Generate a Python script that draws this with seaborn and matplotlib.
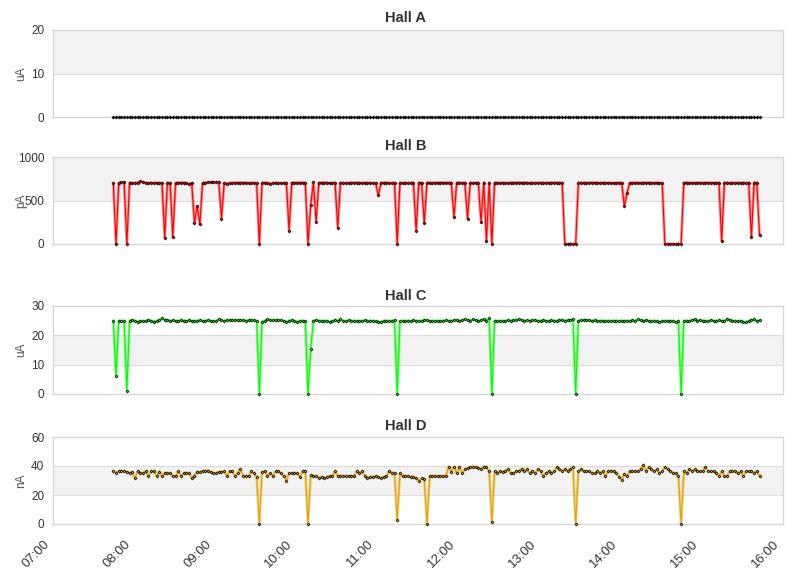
import matplotlib
matplotlib.use("Agg")
import matplotlib.pyplot as plt
import matplotlib.dates as mdates
from matplotlib.transforms import ScaledTranslation
import seaborn as sns
import pandas as pd

# ---------------- data ----------------
times = pd.date_range("2024-01-01 07:45", periods=240, freq="2min")

hall_a = [
    0, 0, 0, 0, 0, 0, 0, 0, 0, 0, 0, 0, 0, 0, 0, 0, 0, 0, 0, 0,
    0, 0, 0, 0, 0, 0, 0, 0, 0, 0, 0, 0, 0, 0, 0, 0, 0, 0, 0, 0,
    0, 0, 0, 0, 0, 0, 0, 0, 0, 0, 0, 0, 0, 0, 0, 0, 0, 0, 0, 0,
    0, 0, 0, 0, 0, 0, 0, 0, 0, 0, 0, 0, 0, 0, 0, 0, 0, 0, 0, 0,
    0, 0, 0, 0, 0, 0, 0, 0, 0, 0, 0, 0, 0, 0, 0, 0, 0, 0, 0, 0,
    0, 0, 0, 0, 0, 0, 0, 0, 0, 0, 0, 0, 0, 0, 0, 0, 0, 0, 0, 0,
    0, 0, 0, 0, 0, 0, 0, 0, 0, 0, 0, 0, 0, 0, 0, 0, 0, 0, 0, 0,
    0, 0, 0, 0, 0, 0, 0, 0, 0, 0, 0, 0, 0, 0, 0, 0, 0, 0, 0, 0,
    0, 0, 0, 0, 0, 0, 0, 0, 0, 0, 0, 0, 0, 0, 0, 0, 0, 0, 0, 0,
    0, 0, 0, 0, 0, 0, 0, 0, 0, 0, 0, 0, 0, 0, 0, 0, 0, 0, 0, 0,
    0, 0, 0, 0, 0, 0, 0, 0, 0, 0, 0, 0, 0, 0, 0, 0, 0, 0, 0, 0,
    0, 0, 0, 0, 0, 0, 0, 0, 0, 0, 0, 0, 0, 0, 0, 0, 0, 0, 0, 0,
]

hall_b = [
    700, 0, 700, 710, 710, 0, 705, 700, 700, 705,
    720, 710, 705, 700, 705, 700, 705, 700, 700, 70,
    705, 700, 75, 700, 705, 705, 705, 700, 690, 700,
    238, 437, 226, 700, 705, 710, 710, 710, 710, 710,
    291, 700, 695, 700, 700, 705, 705, 705, 705, 705,
    700, 700, 705, 700, 0, 705, 705, 700, 695, 700,
    705, 700, 700, 700, 705, 153, 705, 705, 705, 705,
    705, 705, 0, 448, 710, 249, 705, 705, 705, 705,
    700, 700, 705, 188, 705, 700, 700, 700, 705, 705,
    705, 705, 700, 705, 700, 705, 700, 700, 560, 705,
    705, 705, 700, 700, 705, 0, 705, 700, 705, 700,
    705, 705, 153, 705, 705, 238, 705, 705, 700, 705,
    705, 705, 705, 705, 705, 705, 306, 705, 705, 700,
    705, 291, 705, 700, 705, 705, 249, 705, 31, 705,
    0, 705, 705, 700, 705, 700, 700, 705, 705, 705,
    705, 705, 705, 705, 700, 705, 700, 705, 705, 705,
    700, 705, 705, 705, 705, 705, 705, 0, 0, 0,
    0, 0, 705, 705, 705, 700, 705, 705, 705, 705,
    700, 705, 700, 705, 700, 700, 700, 705, 705, 433,
    583, 705, 700, 705, 705, 700, 705, 705, 705, 705,
    700, 705, 700, 700, 0, 0, 0, 0, 0, 0,
    0, 705, 705, 700, 705, 700, 705, 705, 700, 705,
    705, 700, 705, 700, 705, 31, 705, 705, 700, 705,
    700, 705, 700, 705, 700, 705, 77, 705, 705, 100,
]

hall_c = [
    25.0, 6.2, 25.0, 25.0, 25.0, 1.0, 25.0, 25.3, 25.0, 24.6,
    25.0, 24.8, 25.0, 25.3, 25.0, 24.7, 25.0, 25.2, 25.8, 25.3,
    25.2, 25.0, 25.2, 25.0, 24.8, 25.3, 25.0, 24.9, 25.2, 25.0,
    24.8, 25.0, 25.2, 25.0, 24.9, 25.3, 25.0, 24.8, 25.0, 25.5,
    25.2, 25.0, 25.2, 25.2, 25.3, 25.2, 25.2, 25.2, 25.2, 25.0,
    25.2, 25.2, 25.2, 25.0, 0.0, 24.7, 25.0, 25.4, 25.2, 25.2,
    25.2, 25.2, 25.2, 24.8, 24.6, 25.0, 25.3, 24.9, 24.7, 25.0,
    25.0, 24.8, 0.0, 15.2, 25.0, 25.2, 25.0, 25.0, 24.8, 25.0,
    24.6, 24.9, 25.3, 25.0, 25.5, 25.0, 24.8, 25.2, 24.9, 25.0,
    25.0, 24.8, 25.0, 25.1, 24.9, 25.0, 25.0, 24.8, 24.7, 24.6,
    25.0, 25.0, 24.8, 25.0, 25.3, 0.0, 24.8, 25.0, 24.9, 25.0,
    24.9, 25.2, 25.0, 24.9, 25.0, 25.3, 25.2, 24.8, 25.0, 24.9,
    25.0, 24.9, 25.0, 25.2, 25.0, 25.0, 25.2, 25.3, 25.0, 25.2,
    25.5, 25.3, 25.0, 25.5, 25.2, 24.8, 25.3, 25.5, 25.0, 25.8,
    0.0, 25.0, 24.9, 25.0, 24.8, 25.0, 25.2, 25.0, 25.3, 25.2,
    25.5, 25.2, 25.0, 25.2, 25.0, 25.3, 25.2, 24.9, 25.0, 25.2,
    25.0, 25.0, 25.1, 25.0, 25.0, 25.3, 25.2, 25.0, 25.2, 25.3,
    25.4, 0.0, 25.0, 25.2, 25.3, 25.2, 25.2, 25.0, 25.2, 25.0,
    25.0, 25.0, 24.9, 25.0, 24.9, 25.0, 25.0, 24.9, 25.0, 25.0,
    25.0, 25.0, 25.2, 25.0, 25.4, 25.2, 25.0, 25.3, 25.0, 24.8,
    25.0, 24.9, 24.6, 25.0, 25.0, 24.9, 24.9, 24.9, 24.6, 25.0,
    0.0, 25.0, 25.0, 24.9, 25.3, 25.4, 25.0, 25.2, 25.0, 25.0,
    24.9, 25.2, 25.0, 25.0, 25.1, 25.0, 24.9, 25.6, 25.3, 25.0,
    25.0, 24.8, 25.0, 24.6, 24.4, 25.0, 25.3, 25.4, 24.8, 25.2,
]

hall_d = [
    36.6, 35.4, 36.6, 36.6, 36.6, 36.1, 35.0, 35.9, 31.5, 36.3,
    35.0, 35.0, 36.3, 33.1, 36.3, 36.3, 33.1, 35.9, 33.1, 35.4,
    35.0, 35.0, 33.1, 33.1, 36.3, 33.1, 35.0, 35.4, 35.0, 31.5,
    33.1, 36.1, 35.9, 36.8, 36.8, 36.8, 36.1, 35.0, 35.0, 36.1,
    36.1, 36.3, 33.1, 36.3, 36.3, 33.1, 35.4, 37.9, 33.1, 33.1,
    33.1, 36.3, 35.0, 32.6, 0.0, 35.9, 36.3, 33.1, 35.0, 33.1,
    36.3, 36.3, 35.0, 33.1, 29.9, 35.0, 35.0, 35.4, 35.0, 32.6,
    36.3, 36.3, 0.0, 33.6, 33.1, 33.1, 31.5, 32.6, 31.5, 32.6,
    33.1, 33.1, 36.3, 33.1, 33.1, 33.1, 33.1, 33.1, 33.1, 33.1,
    36.3, 35.0, 36.3, 33.1, 31.5, 32.6, 32.6, 33.1, 32.6, 31.5,
    32.6, 33.1, 36.3, 35.4, 35.0, 2.5, 35.0, 33.1, 33.1, 33.1,
    32.6, 32.6, 31.5, 29.9, 31.5, 30.8, 0.0, 33.1, 33.1, 33.1,
    33.1, 33.1, 33.1, 33.1, 39.5, 36.1, 39.5, 35.0, 39.5, 35.0,
    37.7, 38.4, 39.5, 39.5, 39.5, 38.9, 37.9, 39.5, 39.1, 36.3,
    1.2, 36.3, 35.0, 36.3, 36.1, 36.8, 37.7, 35.0, 35.0, 36.3,
    36.8, 37.9, 36.3, 37.7, 35.0, 36.3, 35.0, 37.7, 36.3, 33.1,
    35.4, 36.3, 35.0, 36.3, 39.1, 37.7, 36.3, 37.7, 36.3, 37.7,
    39.5, 0.0, 36.3, 37.7, 36.3, 36.3, 36.3, 35.0, 35.0, 36.3,
    35.4, 36.3, 33.1, 36.3, 36.8, 36.3, 35.0, 32.6, 30.3, 34.5,
    33.1, 36.3, 36.3, 36.3, 36.3, 37.7, 40.9, 36.3, 39.1, 37.7,
    36.3, 37.7, 35.0, 36.3, 39.1, 37.7, 36.3, 35.4, 35.0, 33.1,
    0.0, 36.3, 35.0, 37.7, 36.3, 37.7, 36.3, 36.3, 36.3, 39.5,
    36.3, 36.3, 36.3, 35.0, 33.1, 36.3, 33.1, 33.1, 36.3, 36.3,
    36.3, 35.0, 36.3, 33.1, 36.3, 36.3, 36.3, 35.0, 36.3, 33.1,
]

titles = ["Hall A", "Hall B", "Hall C", "Hall D"]
units = ["uA", "pA", "uA", "nA"]
yticks = [[0, 10, 20], [0, 500, 1000], [0, 10, 20, 30], [0, 20, 40, 60]]
bands = [[(10, 20)], [(500, 1000)], [(10, 20)], [(20, 40)]]
series = [hall_a, hall_b, hall_c, hall_d]
colors = ["#000000", "#ff0000", "#00ff00", "#e3a200"]
halo_alpha = [0.0, 0.45, 0.45, 0.45]

# ---------------- layout (pixel based) ----------------
W, H = 811, 578
left_px, width_px = 52.5, 730
panel_px = [(30, 117), (157, 244), (306, 394), (437, 524)]
title_px = [18, 146, 296, 426]

sns.set_theme(style="white")
plt.rcParams['font.family'] = ['Liberation Sans', 'DejaVu Sans']

fig = plt.figure(figsize=(W / 100, H / 100), dpi=100)

x0 = pd.Timestamp("2024-01-01 07:00")
x1 = pd.Timestamp("2024-01-01 16:00")

for k in range(4):
    top, bot = panel_px[k]
    ax = fig.add_axes([left_px / W, 1 - bot / H, width_px / W, (bot - top) / H])
    ax.set_facecolor("white")
    for lo, hi in bands[k]:
        ax.axhspan(lo, hi, color="#f2f2f2", lw=0, zorder=0)
    for t in yticks[k]:
        ax.axhline(t, color="#dddddd", lw=0.8, zorder=0.5)

    df = pd.DataFrame({"time": times, "value": series[k]})
    if halo_alpha[k] > 0:
        sns.lineplot(data=df, x="time", y="value", ax=ax, color=colors[k],
                     lw=2.0, alpha=halo_alpha[k], zorder=2, estimator=None)
        sns.lineplot(data=df, x="time", y="value", ax=ax, color=colors[k],
                     lw=0.8, zorder=2.1, estimator=None)
    mfc = colors[k] if k > 0 else "#000000"
    sns.scatterplot(data=df, x="time", y="value", ax=ax, marker="D", s=2.2,
                    color=mfc, edgecolor="black", linewidth=0.5,
                    zorder=4, clip_on=False)

    ax.set_xlim(x0, x1)
    ax.set_ylim(yticks[k][0], yticks[k][-1])
    ax.set_yticks(yticks[k])
    ax.set_yticklabels([str(t) for t in yticks[k]])
    ax.tick_params(axis="both", length=0, labelsize=8.5, colors="#333333")
    ax.tick_params(axis="y", pad=6)
    ax.xaxis.set_major_locator(mdates.HourLocator())
    ax.xaxis.set_major_formatter(mdates.DateFormatter("%H:%M"))
    ax.set_xlabel("")
    ax.set_ylabel(units[k], fontsize=8.5, color="#555555")
    ax.yaxis.set_label_coords(-0.035, 0.5)
    for sp in ax.spines.values():
        sp.set_color("#d8d8d8")
        sp.set_linewidth(1.0)
        sp.set_zorder(3)
    ax.grid(False)
    if k < 3:
        ax.tick_params(axis="x", labelbottom=False)
    else:
        ax.tick_params(axis="x", pad=13, labelsize=9.5)
        offset = ScaledTranslation(-5 / 100, 0, fig.dpi_scale_trans)
        for lab in ax.get_xticklabels():
            lab.set_rotation(45)
            lab.set_ha("right")
            lab.set_va("center")
            lab.set_rotation_mode("anchor")
            lab.set_transform(lab.get_transform() + offset)

    fig.text(0.5, 1 - title_px[k] / H, titles[k], ha="center",
             va="center", fontsize=10.5, fontweight="bold", color="#333333")

fig.savefig("out.png", dpi=100)
